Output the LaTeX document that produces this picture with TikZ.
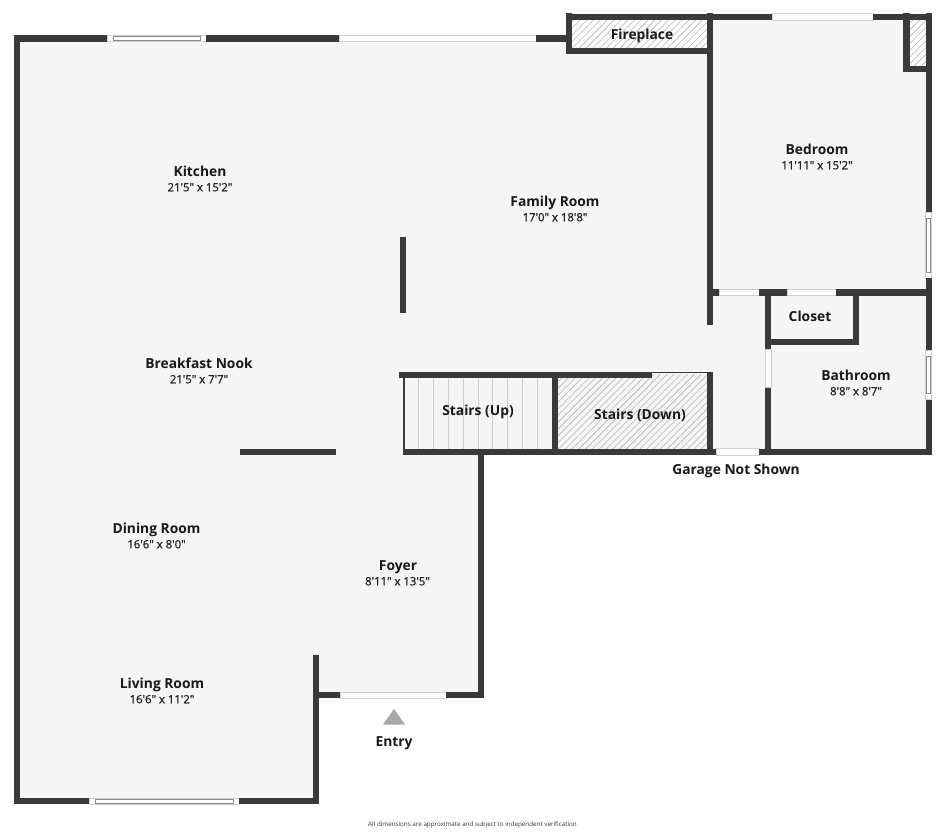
\documentclass[tikz,border=0pt]{standalone}
\usepackage{fontspec}
\usetikzlibrary{patterns.meta}
\newfontfamily\planfont{Open Sans}[BoldFont={Open Sans Bold}]
\newfontfamily\sizefont{Open Sans}[FakeBold=1.2]
\definecolor{wallgray}{HTML}{3A3A3A}
\definecolor{floorgray}{HTML}{F5F5F5}
\definecolor{edgegray}{HTML}{CFCFCF}
\definecolor{glassgray}{HTML}{8A8A8A}
\definecolor{hatchgray}{HTML}{B4B4B4}
\definecolor{entrygray}{HTML}{A8A8A8}
\tikzset{
	wall/.style={draw=wallgray,line width=4.6pt},
	hatch/.style={pattern={Lines[angle=45,distance=3.6pt,line width=0.45pt]},pattern color=hatchgray},
	doorbox/.style={fill=white,draw=edgegray,line width=0.5pt},
	glassline/.style={draw=glassgray,line width=0.5pt},
	roomname/.style={font=\planfont\bfseries\fontsize{10.35}{12}\selectfont,text=black!90,inner sep=0pt,text height=7.6pt,text depth=0pt},
	roomsize/.style={font=\sizefont\fontsize{8.5}{10}\selectfont,text=black!85,inner sep=0pt,text height=6.4pt,text depth=0pt},
}
\begin{document}
\begin{tikzpicture}[x=0.75pt,y=-0.75pt]
	\useasboundingbox (0,0) rectangle (945,831);
	% piso
	\fill[floorgray] (17,38) -- (568,38) -- (568,51) -- (710,51) -- (710,17) -- (928,17)
		-- (928,452) -- (481,452) -- (481,695) -- (316,695) -- (316,801) -- (17,801) -- cycle;
	\fill[white] (572,20) rectangle (707,48);
	\fill[white] (909,20) rectangle (926,66);
	\fill[hatch] (572,20) rectangle (707,48);
	\fill[hatch] (909,20) rectangle (926,66);
	\fill[hatch] (558,374) rectangle (707,449);
	\foreach \Xc in {418.3,433.3,448.3,463.3,478,492.7,507.7,522.3,537.3}
	{
		\draw[edgegray,line width=0.6pt] (\Xc,377) -- (\Xc,449);
	}
	\draw[wallgray,line width=1.5pt] (404,377) -- (404,449);
	\draw[wallgray,line width=0.8pt] (651,372.5) -- (713,372.5);
	% puertas
	\foreach \Xa/\Ya/\Xb/\Yb in
	{339/35.5/536/41.5,772/13.5/873/20,719/289.5/759/295.5,787/289.5/836/295.5,
	765/349/771.5/387.5,716/448.5/759/455,340/692/446/698}
	{
		\path[doorbox] (\Xa,\Ya) rectangle (\Xb,\Yb);
	}
	% ventanas
	\foreach \Xa/\Xb/\Ya in {107/206/35,89/239/798}
	{
		\path[doorbox] (\Xa,\Ya) rectangle (\Xb,\Ya+6.5);
		\draw[glassline] (\Xa+6,\Ya+1.5) rectangle (\Xb-6,\Ya+5.5);
	}
	\foreach \Ya/\Yb in {212/278,350/399.5}
	{
		\path[doorbox] (925.7,\Ya) rectangle (931.7,\Yb);
		\draw[glassline] (926.7,\Ya+6) rectangle (930.7,\Yb-6);
	}
	% muros
	\foreach \Xa/\Ya/\Xb/\Yb in
	{17/35.5/17/804,14/38.5/107/38.5,206/38.5/339/38.5,536/38.5/569/38.5,
	14/801/89/801,239/801/319/801,316/655/316/804,316/695/340/695,446/695/484/695,481/698/481/449,
	569/13.5/569/54.5,566/51.3/713/51.3,566/16.7/772/16.7,873/16.7/932/16.7,
	710/13.5/710/325,906.5/13.5/906.5/71.7,903.3/68.7/932/68.7,
	928.7/13.5/928.7/212,928.7/278/928.7/350,928.7/399.5/928.7/455,
	707/292.5/719/292.5,759/292.5/787/292.5,836/292.5/932/292.5,
	768.3/292/768.3/349,768.3/387.5/768.3/455,765/342/859.3/342,856.3/292/856.3/345,
	759/451.7/932/451.7,403/451.7/716/451.7,399/374.7/651.5/374.7,555/372/555/452,710/372/710/452,
	403/237/403/313,240/451.7/336/451.7}
	{
		\draw[wall] (\Xa,\Ya) -- (\Xb,\Yb);
	}
	% textos
	\foreach \Nombre/\Xc/\Yc/\Texto in
	{kitchen/200/171/Kitchen,family/555/201/Family Room,bedroom/817/149/Bedroom,
	closet/810/316/Closet,bathroom/856/375/Bathroom,nook/199/363/Breakfast Nook,
	stairsup/478/410/Stairs (Up),stairsdown/640/414/Stairs (Down),garage/736/469/Garage Not Shown,
	dining/156.5/528/Dining Room,foyer/398/565/Foyer,living/162/683/Living Room,
	fireplace/642/34/Fireplace,entry/394/741/Entry}
	{
		\node[roomname] (\Nombre) at (\Xc,\Yc) {\Texto};
	}
	\foreach \Nombre/\Xc/\Yc/\Texto in
	{kitchensize/200/187/21'5" x 15'2",familysize/555/217/17'0" x 18'8",bedroomsize/817/165/11'11" x 15'2",
	bathroomsize/856/391/8'8" x 8'7",nooksize/199/379/21'5" x 7'7",diningsize/156.5/544/16'6" x 8'0",
	foyersize/397.5/581/8'11" x 13'5",livingsize/162/699/16'6" x 11'2"}
	{
		\node[roomsize] (\Nombre) at (\Xc,\Yc) {\Texto};
	}
	\fill[entrygray] (383,724.5) -- (394,709) -- (405,724.5) -- cycle;
	\node[font=\planfont\fontsize{4.7}{6}\selectfont,text=black!80,inner sep=0pt] (footnote) at (472.5,824.5)
		{All dimensions are approximate and subject to independent verification};
\end{tikzpicture}
\end{document}
